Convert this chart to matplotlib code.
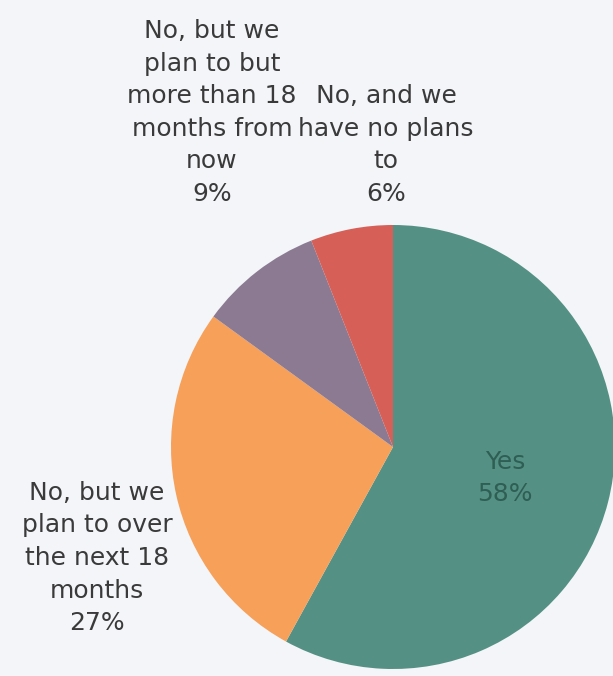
import matplotlib
matplotlib.use("Agg")
import matplotlib.pyplot as plt

labels = ["Yes",
          "No, but we\nplan to over\nthe next 18\nmonths",
          "No, but we\nplan to but\nmore than 18\nmonths from\nnow",
          "No, and we\nhave no plans\nto"]
shares = [58, 27, 9, 6]
colors = ["#549184", "#f6a05a", "#8b7a92", "#d66058"]

bg = "#f3f5f9"
W, H = 613, 676
cx, cy, r = 393, 447, 222


def to_data(px, py):
    return (px - cx) / r, (cy - py) / r


fig = plt.figure(figsize=(W / 100, H / 100), dpi=100, facecolor=bg)
ax = fig.add_axes([(cx - r) / W, (H - cy - r) / H, 2 * r / W, 2 * r / H])
ax.set_facecolor(bg)
ax.pie(shares, colors=colors, startangle=90, counterclock=False,
       radius=1, center=(0, 0), wedgeprops=dict(linewidth=0))
ax.set_xlim(-1, 1)
ax.set_ylim(-1, 1)
ax.set_aspect("equal")
ax.axis("off")

txt = dict(fontsize=18, ha="center", multialignment="center",
           linespacing=1.45, family="DejaVu Sans", clip_on=False)

# label positions in pixels of the reference (Excel-like outside labels)
pos = [(505, 478, "center"), (97, 558, "center"),
       (212, 201, "baseline"), (386, 201, "baseline")]
for lab, s, (px, py, va) in zip(labels, shares, pos):
    x, y = to_data(px, py)
    col = "#2f5e55" if lab == "Yes" else "#3a3a3a"
    ax.text(x, y, f"{lab}\n{s}%", va=va, color=col, **txt)

fig.savefig("out.png", dpi=100, facecolor=bg)
